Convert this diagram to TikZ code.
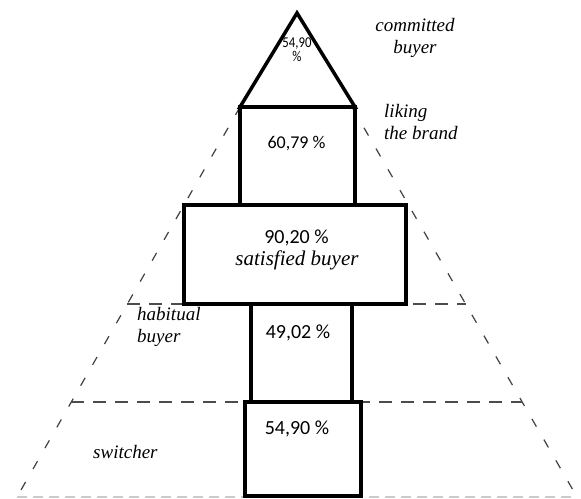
\documentclass[tikz,border=0pt]{standalone}
\usepackage{fontspec}
\setmainfont{Liberation Serif}
\newfontfamily\numfont{Carlito}
\usetikzlibrary{calc}
\begin{document}
\begin{tikzpicture}[x=1pt,y=-1pt,
  heavy/.style={line width=3.5pt, line join=miter, line cap=rect},
  boxnode/.style={draw, line width=3.5pt, inner sep=0pt, outer sep=0pt},
  slant/.style={draw=black!75, line width=1.2pt, dash pattern=on 9pt off 15pt},
  level/.style={draw=black!70, line width=1.5pt, dash pattern=on 13pt off 9pt},
  floor/.style={draw=black!20, line width=1.5pt, dash pattern=on 10pt off 6pt},
  num/.style={font=\numfont\fontsize{20}{22}\selectfont, inner sep=0pt, anchor=base},
  lab/.style={font=\itshape\fontsize{19}{22}\selectfont, inner sep=0pt, anchor=base},
]
\useasboundingbox (0,0) rectangle (581,498);

% pyramid outline (dashed)
\coordinate (pl) at (240,107);
\coordinate (pbl) at (17,497);
\coordinate (pr) at (352,107);
\coordinate (pbr) at (577,497);
\coordinate (l1) at ($(pl)!{197/390}!(pbl)$);
\coordinate (r1) at ($(pr)!{197/390}!(pbr)$);
\coordinate (l2) at ($(pl)!{295/390}!(pbl)$);
\coordinate (r2) at ($(pr)!{295/390}!(pbr)$);
\draw[slant] (pl) -- (pbl);
\draw[slant] (pr) -- (pbr);
\draw[level] (l1) -- (r1);
\draw[level] (l2) -- (r2);
\draw[floor] (pbl) -- (pbr);

% boxes
\node[boxnode, minimum width=115pt, minimum height=98pt] (b1) at (297.5,156) {};
\node[boxnode, minimum width=222pt, minimum height=99pt] (b2) at (295,254.5) {};
\node[boxnode, minimum width=101pt, minimum height=98pt] (b3) at (301.5,353) {};
\node[boxnode, minimum width=116pt, minimum height=94pt] (b4) at (303,449) {};
\coordinate (apex) at (297,13);
\draw[heavy] (b1.north west) -- (apex) -- (b1.north east) -- cycle;

% texts in boxes
\node[num, font=\numfont\fontsize{15}{14}\selectfont, align=center, xscale=0.85, transform shape] (t0) at (297,61) {54,90\\\%};
\node[num, font=\numfont\fontsize{18}{20}\selectfont] (t1) at (296.5,148) {60,79 \%};
\node[num] (t2) at (296.5,243) {90,20 \%};
\node[lab, font=\itshape\fontsize{21}{22}\selectfont] (t2b) at (297,265) {satisfied buyer};
\node[num] (t3) at (298,338) {49,02 \%};
\node[num] (t4) at (297,434) {54,90 \%};

% side labels
\node[lab, align=center] (c1) at (415,53) {committed\\buyer};
\node[lab, align=left, anchor=base west] (c2) at (384,139) {liking\\the brand};
\node[lab, align=left, anchor=base west] (c3) at (137,342) {habitual\\buyer};
\node[lab, anchor=base west] (c4) at (93,458) {switcher};
\end{tikzpicture}
\end{document}
